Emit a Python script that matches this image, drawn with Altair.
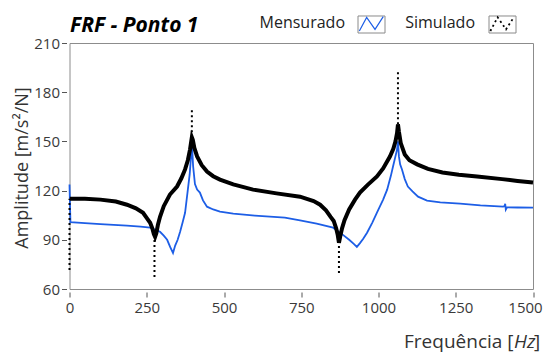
import altair as alt
import pandas as pd

# Simulado (dense part of the curve)
sim_freq = [1, 50, 100, 150, 186, 215, 238, 252, 261, 268, 273, 277, 281, 286, 293, 305, 325, 348,
            362, 374, 383, 390, 394, 396, 399, 404, 413, 428, 445, 465, 487, 530, 594, 670, 746,
            790, 811, 830, 845, 855, 863, 868, 872, 876, 882, 890, 905, 924, 940, 965, 995, 1015,
            1037, 1048, 1055, 1060, 1063, 1066, 1072, 1085, 1100, 1125, 1160, 1207, 1260, 1319,
            1400, 1450, 1500]
sim_amp = [115, 115, 114.5, 113.3, 111.4, 109.2, 106.5, 102.8, 100.4, 97, 93.5, 91.8, 94, 99, 104,
           110.5, 117.6, 122.5, 127.5, 132.9, 138.5, 145, 150, 152.5, 151, 146, 140.8, 135.5, 131.6,
           128.8, 126.7, 123.8, 120.6, 118.3, 116.3, 113.6, 111.4, 108, 104, 101.5, 97, 93, 88.2,
           92, 97, 102, 108.5, 114.5, 118.8, 123.5, 128.6, 133.5, 140.8, 145.5, 150, 155, 160.4,
           156, 149, 142, 138.5, 136, 133.2, 131, 129.7, 128.6, 127, 125.9, 124.9]

# Simulado (sparse spikes, dotted)
spike_freq = [0, 275, 396, 872, 1063]
spike_low = [71.6, 67.3, 152.5, 69.8, 160.4]
spike_high = [115, 92, 170.8, 88.2, 194]

# Mensurado
meas_freq = [0, 3, 50, 100, 186, 230, 261, 293, 305, 316, 326, 335, 342, 350, 358, 366, 374, 383,
             389, 393, 396, 400, 406, 413, 422, 432, 445, 465, 487, 530, 600, 697, 746, 800, 853,
             885, 905, 920, 930, 940, 950, 963, 980, 995, 1015, 1028, 1040, 1047, 1055, 1060, 1063,
             1066, 1070, 1076, 1085, 1095, 1110, 1128, 1157, 1200, 1264, 1330, 1403, 1408, 1410,
             1412, 1416, 1450, 1500]
meas_amp = [123.7, 100.8, 100.2, 99.6, 98.6, 98, 97.4, 94.9, 92.5, 90, 85.5, 82, 86.5, 90, 94.9,
            100.5, 106.5, 120.6, 130, 140, 149.4, 135, 124, 120.6, 118.8, 114, 110.2, 108.5, 107.2,
            106, 104.8, 103.5, 101.8, 99.8, 97.4, 93, 90, 87.5, 85.7, 88, 90.5, 94.3, 100.5, 106.5,
            114.5, 120.6, 129, 134.7, 141, 145, 150, 141, 136, 132.9, 127, 122.5, 119.5, 116.3,
            113.9, 112.8, 112, 111, 110.2, 110.5, 112, 108.4, 109.8, 109.7, 109.6]

x_ticks = [0, 250, 500, 750, 1000, 1250, 1500]
y_ticks = [60, 90, 120, 150, 180, 210]

FONT = "Open Sans"
BLUE = "#1d5ee6"

sim_df = pd.DataFrame({"f": sim_freq, "a": sim_amp})
spike_df = pd.DataFrame({"f": spike_freq, "lo": spike_low, "hi": spike_high})
meas_df = pd.DataFrame({"f": meas_freq, "a": meas_amp})
one = pd.DataFrame({"k": [0]})

xscale = alt.Scale(domain=[0, 1500], nice=False, zero=False)
yscale = alt.Scale(domain=[60, 210], nice=False, zero=False)
xaxis = alt.Axis(values=x_ticks, format="d", title=None, grid=False, domain=False, offset=3,
                 tickSize=5, labelPadding=3, labelFontSize=15, labelFont=FONT,
                 labelColor="#3a3a3a", tickColor="#555555", labelFlush=False,
                 labelOffset=alt.condition("datum.value == 1500", alt.value(-8), alt.value(0)))
yaxis = alt.Axis(values=y_ticks, format="d", title=None, grid=False, domain=False, offset=3,
                 tickSize=5, labelPadding=2, labelFontSize=15, labelFont=FONT,
                 labelColor="#3a3a3a", tickColor="#555555", labelFlush=False)

meas = alt.Chart(meas_df).mark_line(color=BLUE, strokeWidth=1.8).encode(
    x=alt.X("f:Q", scale=xscale, axis=xaxis),
    y=alt.Y("a:Q", scale=yscale, axis=yaxis),
    order="f:Q",
)
sim = alt.Chart(sim_df).mark_line(color="black", strokeWidth=4).encode(
    x=alt.X("f:Q", scale=xscale), y=alt.Y("a:Q", scale=yscale), order="f:Q"
)
spikes = alt.Chart(spike_df).mark_rule(color="black", strokeWidth=2, strokeDash=[2, 3]).encode(
    x=alt.X("f:Q", scale=xscale), y=alt.Y("lo:Q", scale=yscale), y2="hi:Q"
)

title = alt.Chart(one).mark_text(text="FRF - Ponto 1", font=FONT, fontSize=21, fontWeight="bold",
                                 fontStyle="italic", align="left", baseline="alphabetic",
                                 color="black").encode(x=alt.value(0.5), y=alt.value(-11))

leg1 = alt.Chart(one).mark_text(text="Mensurado", font=FONT, fontSize=16, align="right",
                                baseline="alphabetic", color="#222222").encode(
    x=alt.value(275.5), y=alt.value(-15.5))
leg2 = alt.Chart(one).mark_text(text="Simulado", font=FONT, fontSize=16, align="right",
                                baseline="alphabetic", color="#222222").encode(
    x=alt.value(405.5), y=alt.value(-15.5))

box_path = "M-1,-0.63L1,-0.63L1,0.63L-1,0.63Z"
n_path = "M-0.9,0.48L-0.36,-0.53L0.26,0.36L0.87,-0.58"
box1 = alt.Chart(one).mark_point(shape=box_path, size=729, filled=False, color="#8a8a8a",
                                 strokeWidth=1, opacity=1).encode(x=alt.value(302), y=alt.value(-18.5))
box2 = alt.Chart(one).mark_point(shape=box_path, size=729, filled=False, color="#8a8a8a",
                                 strokeWidth=1, opacity=1).encode(x=alt.value(433), y=alt.value(-18.5))
zig1 = alt.Chart(one).mark_point(shape=n_path, size=729, filled=False, color=BLUE,
                                 strokeWidth=1.2, opacity=1).encode(x=alt.value(302), y=alt.value(-18.5))
zig2 = alt.Chart(one).mark_point(shape=n_path, size=729, filled=False, color="black",
                                 strokeWidth=1.8, strokeDash=[2, 3], opacity=1).encode(
    x=alt.value(433), y=alt.value(-18.5))

ytitle = alt.Chart(one).mark_text(text="Amplitude [m/s²/N]", font=FONT, fontSize=18, angle=270,
                                  align="center", baseline="alphabetic", color="#333333").encode(
    x=alt.value(-42), y=alt.value(125))
xt1 = alt.Chart(one).mark_text(text="Frequência [", font=FONT, fontSize=19, align="right",
                               baseline="alphabetic", color="#333333").encode(
    x=alt.value(444), y=alt.value(305))
xt2 = alt.Chart(one).mark_text(text="Hz", font=FONT, fontSize=19, fontStyle="italic", align="left",
                               baseline="alphabetic", color="#333333").encode(
    x=alt.value(444.5), y=alt.value(305))
xt3 = alt.Chart(one).mark_text(text="]", font=FONT, fontSize=19, align="left",
                               baseline="alphabetic", color="#333333").encode(
    x=alt.value(464.5), y=alt.value(305))

chart = alt.layer(meas, sim, spikes, title, leg1, leg2, box1, box2, zig1, zig2, ytitle, xt1, xt2, xt3).properties(
    width=463.5, height=246,
    padding={"left": 61.5, "top": 35, "right": 10, "bottom": 64},
    autosize=alt.AutoSizeParams(type="none"),
).configure_view(stroke="#8c8c8c", strokeWidth=1)

chart.save("out.html", embed_options={"renderer": "svg", "actions": False})
